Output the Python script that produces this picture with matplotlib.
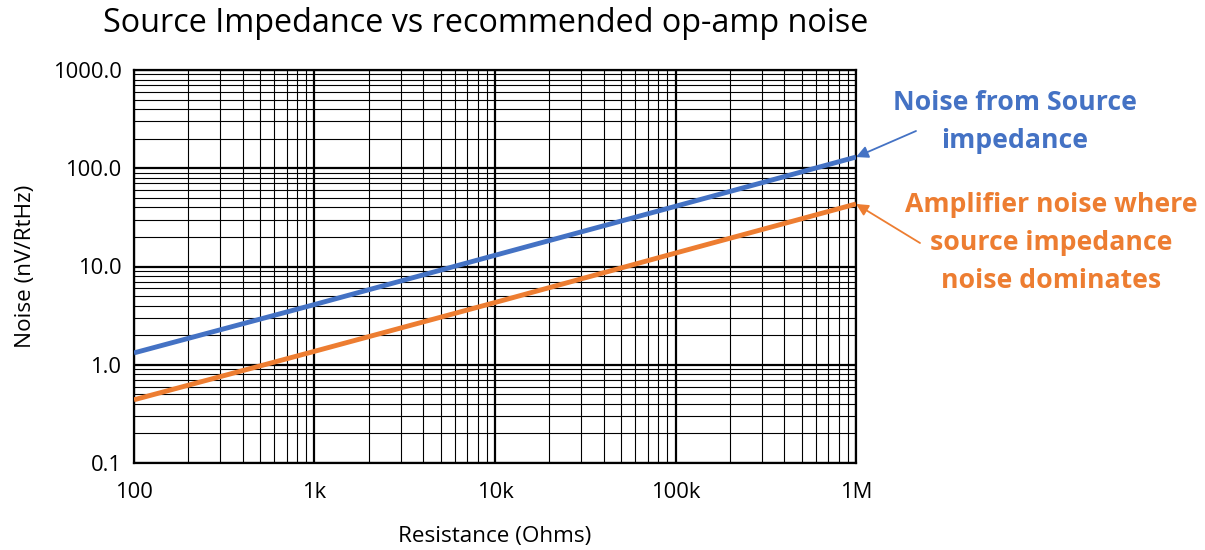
import matplotlib
matplotlib.use("Agg")
import matplotlib.pyplot as plt
from matplotlib.ticker import LogLocator, FixedLocator, NullFormatter

plt.rcParams['font.family'] = ['Open Sans', 'DejaVu Sans']

resistance = [100, 1000, 10000, 100000, 1000000]
source_noise = [1.32, 4.1, 13.0, 41.0, 130.0]
amp_noise = [0.44, 1.37, 4.3, 13.7, 43.3]

x_ticks = [100, 1000, 10000, 100000, 1000000]
x_labels = ["100", "1k", "10k", "100k", "1M"]
y_ticks = [0.1, 1, 10, 100, 1000]
y_labels = ["0.1", "1.0", "10.0", "100.0", "1000.0"]

blue = "#4472C4"
orange = "#ED7D31"

W, H = 1205, 550


def fpos(px, py):
    return (px / W, 1 - py / H)


fig = plt.figure(figsize=(12.05, 5.5), dpi=100)
ax = fig.add_axes([134 / W, 1 - 463 / H, (856 - 134) / W, (463 - 70) / H])

ax.set_xscale("log")
ax.set_yscale("log")
ax.set_xlim(100, 1e6)
ax.set_ylim(0.1, 1000)

ax.xaxis.set_major_locator(FixedLocator(x_ticks))
ax.set_xticklabels(x_labels)
ax.yaxis.set_major_locator(FixedLocator(y_ticks))
ax.set_yticklabels(y_labels)
ax.xaxis.set_minor_locator(LogLocator(base=10, subs=range(2, 10)))
ax.yaxis.set_minor_locator(LogLocator(base=10, subs=range(2, 10)))
ax.xaxis.set_minor_formatter(NullFormatter())
ax.yaxis.set_minor_formatter(NullFormatter())

ax.grid(which="major", color="black", linewidth=1.6)
ax.grid(which="minor", color="black", linewidth=0.8)
ax.tick_params(which="both", length=0, labelsize=15.8)
ax.tick_params(axis="y", pad=9)
ax.tick_params(axis="x", pad=14)
for s in ax.spines.values():
    s.set_linewidth(1.6)

ax.plot(resistance, source_noise, color=blue, linewidth=3.5, solid_capstyle="butt", zorder=5)
ax.plot(resistance, amp_noise, color=orange, linewidth=3.5, solid_capstyle="butt", zorder=5)

ax.set_xlabel("Resistance (Ohms)", fontsize=16.2, labelpad=16)
ax.set_ylabel("Noise (nV/RtHz)", fontsize=16.2, labelpad=12)
fig.text(*fpos(103, 24), "Source Impedance vs recommended op-amp noise",
         fontsize=23.3, va="center", ha="left")

fig.text(*fpos(1015, 122), "Noise from Source\nimpedance", ha="center", va="center",
         fontsize=19.2, fontweight="bold", color=blue, linespacing=1.6)
fig.text(*fpos(1051, 243), "Amplifier noise where\nsource impedance\nnoise dominates",
         ha="center", va="center", fontsize=19.2, fontweight="bold", color=orange,
         linespacing=1.6)

ax.annotate("", xy=(resistance[-1], source_noise[-1]), xytext=fpos(916, 131),
            textcoords="figure fraction", annotation_clip=False,
            arrowprops=dict(arrowstyle="-|>", color=blue, lw=1.3, mutation_scale=18,
                            shrinkA=0, shrinkB=0))
ax.annotate("", xy=(resistance[-1], amp_noise[-1]), xytext=fpos(920, 243),
            textcoords="figure fraction", annotation_clip=False,
            arrowprops=dict(arrowstyle="-|>", color=orange, lw=1.3, mutation_scale=18,
                            shrinkA=0, shrinkB=0))

fig.savefig("out.png", dpi=100)
